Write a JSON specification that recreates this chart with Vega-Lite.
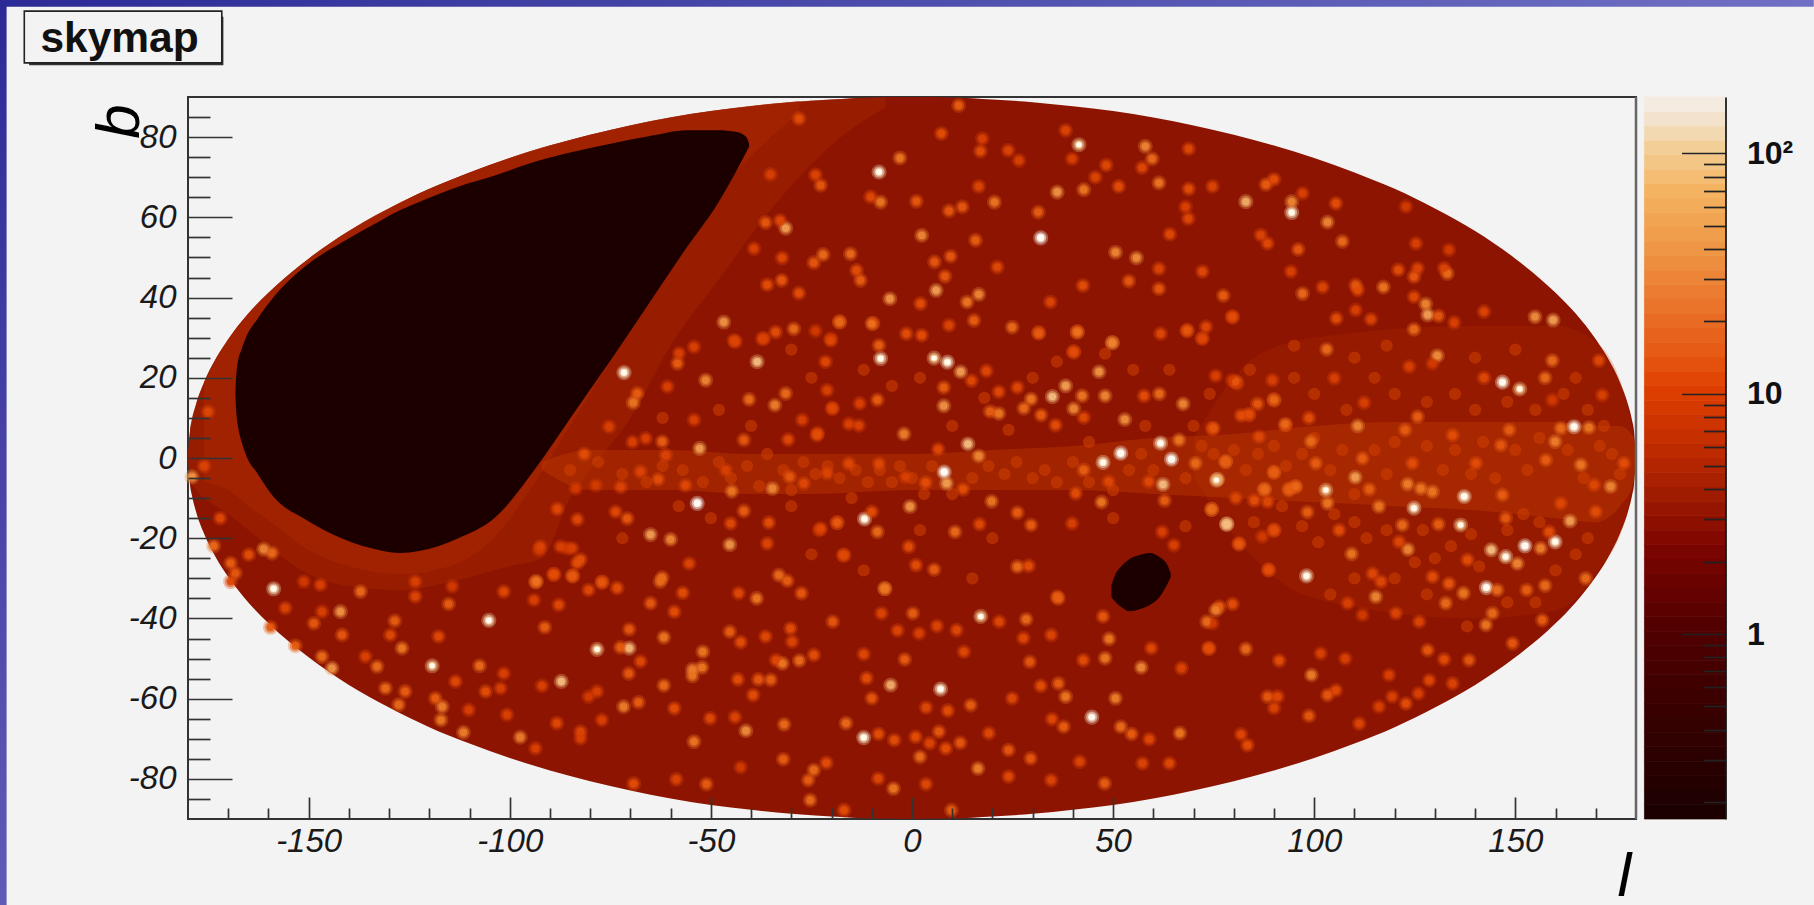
{
"$schema":"https://vega.github.io/schema/vega-lite/v6.json",
"width":1448,"height":722,
"autosize":{"type":"none"},
"padding":{"left":188,"top":97,"right":178,"bottom":86},
"background":"#f3f3f3",
"view":{"stroke":"#333","strokeWidth":2,"fill":null},
"resolve":{"scale":{"y":"independent","color":"independent"},"axis":{"x":"independent","y":"independent"}},
"datasets":{
"edge":[{"l":-180,"b":0,"b2":0},{"l":-179.5,"b":6.7,"b2":-6.7},{"l":-179,"b":9.5,"b2":-9.5},{"l":-178,"b":13.4,"b2":-13.4},{"l":-176,"b":18.9,"b2":-18.9},{"l":-173,"b":24.9,"b2":-24.9},{"l":-170,"b":29.6,"b2":-29.6},{"l":-165,"b":36,"b2":-36},{"l":-160,"b":41.2,"b2":-41.2},{"l":-150,"b":49.7,"b2":-49.7},{"l":-140,"b":56.6,"b2":-56.6},{"l":-130,"b":62.2,"b2":-62.2},{"l":-120,"b":67.1,"b2":-67.1},{"l":-110,"b":71.2,"b2":-71.2},{"l":-100,"b":74.8,"b2":-74.8},{"l":-90,"b":77.9,"b2":-77.9},{"l":-80,"b":80.6,"b2":-80.6},{"l":-70,"b":82.9,"b2":-82.9},{"l":-60,"b":84.9,"b2":-84.9},{"l":-50,"b":86.5,"b2":-86.5},{"l":-40,"b":87.7,"b2":-87.7},{"l":-30,"b":88.7,"b2":-88.7},{"l":-20,"b":89.4,"b2":-89.4},{"l":-10,"b":89.9,"b2":-89.9},{"l":0,"b":90,"b2":-90},{"l":10,"b":89.9,"b2":-89.9},{"l":20,"b":89.4,"b2":-89.4},{"l":30,"b":88.7,"b2":-88.7},{"l":40,"b":87.7,"b2":-87.7},{"l":50,"b":86.5,"b2":-86.5},{"l":60,"b":84.9,"b2":-84.9},{"l":70,"b":82.9,"b2":-82.9},{"l":80,"b":80.6,"b2":-80.6},{"l":90,"b":77.9,"b2":-77.9},{"l":100,"b":74.8,"b2":-74.8},{"l":110,"b":71.2,"b2":-71.2},{"l":120,"b":67.1,"b2":-67.1},{"l":130,"b":62.2,"b2":-62.2},{"l":140,"b":56.6,"b2":-56.6},{"l":150,"b":49.7,"b2":-49.7},{"l":160,"b":41.2,"b2":-41.2},{"l":165,"b":36,"b2":-36},{"l":170,"b":29.6,"b2":-29.6},{"l":173,"b":24.9,"b2":-24.9},{"l":176,"b":18.9,"b2":-18.9},{"l":178,"b":13.4,"b2":-13.4},{"l":179,"b":9.5,"b2":-9.5},{"l":179.5,"b":6.7,"b2":-6.7},{"l":180,"b":0,"b2":0}],
"rim":[{"l":-180,"b":0,"b2":0},{"l":-179.5,"b":6.7,"b2":-5},{"l":-178,"b":13.4,"b2":-8},{"l":-176,"b":18.9,"b2":-10},{"l":-173,"b":24.9,"b2":-12},{"l":-170,"b":29.6,"b2":-14},{"l":-165,"b":36,"b2":-18},{"l":-160,"b":41.2,"b2":-22},{"l":-150,"b":49.7,"b2":-29},{"l":-140,"b":56.6,"b2":-32},{"l":-127,"b":63.8,"b2":-33},{"l":-115,"b":69.2,"b2":-31},{"l":-100,"b":74.8,"b2":-27},{"l":-92,"b":77.4,"b2":-25},{"l":-85,"b":79.3,"b2":-10},{"l":-80,"b":80.6,"b2":-3},{"l":-70,"b":82.9,"b2":10},{"l":-60,"b":84.9,"b2":28},{"l":-48,"b":86.7,"b2":44.5},{"l":-35,"b":88.3,"b2":62},{"l":-20,"b":89.4,"b2":78},{"l":-6.5,"b":89.9,"b2":87.5}],
"rim2":[{"l":-176,"b":18.9,"b2":-6},{"l":-170,"b":29.6,"b2":-8},{"l":-165,"b":36,"b2":-12},{"l":-158,"b":43,"b2":-17},{"l":-150,"b":49.7,"b2":-23},{"l":-140,"b":56.6,"b2":-27},{"l":-127,"b":63.8,"b2":-29},{"l":-115,"b":69.2,"b2":-27},{"l":-104,"b":73.4,"b2":-20},{"l":-95,"b":76.5,"b2":-8},{"l":-85,"b":79.3,"b2":8},{"l":-75,"b":81.8,"b2":24},{"l":-65,"b":84,"b2":40},{"l":-55,"b":85.8,"b2":56},{"l":-45,"b":87.2,"b2":70},{"l":-35,"b":88.3,"b2":80},{"l":-28,"b":89,"b2":86}],
"plane":[{"l":-92,"b":-1,"b2":-3},{"l":-80,"b":2,"b2":-8},{"l":-60,"b":2,"b2":-8},{"l":-40,"b":1,"b2":-9},{"l":-25,"b":1,"b2":-9},{"l":0,"b":1,"b2":-8},{"l":20,"b":2,"b2":-8},{"l":40,"b":3,"b2":-8},{"l":60,"b":5,"b2":-9},{"l":80,"b":6,"b2":-10},{"l":100,"b":8,"b2":-11},{"l":120,"b":9,"b2":-12},{"l":140,"b":9,"b2":-13},{"l":160,"b":9,"b2":-15},{"l":170,"b":8,"b2":-16},{"l":176,"b":8,"b2":-12},{"l":179.5,"b":5,"b2":-6},{"l":180,"b":0,"b2":0}],
"glow":[{"l":70,"b":5,"b2":-5},{"l":85,"b":25,"b2":-25},{"l":100,"b":30,"b2":-35},{"l":140,"b":33,"b2":-40},{"l":160,"b":33,"b2":-38},{"l":170,"b":29,"b2":-29},{"l":178,"b":13,"b2":-13},{"l":180,"b":0,"b2":0}],
"veto":[{"l":-168.21,"b":16,"b2":16},{"l":-168.12,"b":18.5,"b2":13.5},{"l":-167.93,"b":21.4,"b2":10.6},{"l":-167.55,"b":24.3,"b2":7.7},{"l":-166.78,"b":26.8,"b2":4.4},{"l":-165.36,"b":30.6,"b2":0.2},{"l":-162.98,"b":34.3,"b2":-3.5},{"l":-158.7,"b":40.12,"b2":-9.75},{"l":-151.09,"b":47.6,"b2":-15.15},{"l":-141.57,"b":53.84,"b2":-20.14},{"l":-132.06,"b":59.24,"b2":-23.05},{"l":-127.3,"b":61.74,"b2":-23.7},{"l":-122.54,"b":63.82,"b2":-23.2},{"l":-113.03,"b":67.56,"b2":-20.14},{"l":-103.51,"b":70.47,"b2":-14.74},{"l":-93.99,"b":73.79,"b2":-3.1},{"l":-84.48,"b":76.28,"b2":10.62},{"l":-74.97,"b":78.36,"b2":24.33},{"l":-65.45,"b":80.19,"b2":38.46},{"l":-55.94,"b":81.69,"b2":52.59},{"l":-48.33,"b":81.69,"b2":63.4},{"l":-43.57,"b":81.27,"b2":71.71},{"l":-41.19,"b":80.02,"b2":76.28},{"l":-40.52,"b":78.36,"b2":77.53}],
"hole":[{"l":49.6,"b":-31.7,"b2":-34.7},{"l":50.6,"b":-28.9,"b2":-35.9},{"l":52.1,"b":-26.9,"b2":-37.2},{"l":54.1,"b":-25.2,"b2":-38.2},{"l":56.6,"b":-24.2,"b2":-37.7},{"l":59,"b":-23.7,"b2":-36.7},{"l":61.5,"b":-24.7,"b2":-34.7},{"l":63.5,"b":-26.7,"b2":-31.4},{"l":64.3,"b":-28.7,"b2":-29.7}],
"levels":[{"a":0.17,"c":0.1952},{"a":0.1952,"c":0.2242},{"a":0.2242,"c":0.2575},{"a":0.2575,"c":0.2957},{"a":0.2957,"c":0.3396},{"a":0.3396,"c":0.39},{"a":0.39,"c":0.4478},{"a":0.4478,"c":0.5143},{"a":0.5143,"c":0.5906},{"a":0.5906,"c":0.6782},{"a":0.6782,"c":0.7789},{"a":0.7789,"c":0.8945},{"a":0.8945,"c":1.027},{"a":1.027,"c":1.18},{"a":1.18,"c":1.355},{"a":1.355,"c":1.556},{"a":1.556,"c":1.787},{"a":1.787,"c":2.052},{"a":2.052,"c":2.356},{"a":2.356,"c":2.706},{"a":2.706,"c":3.108},{"a":3.108,"c":3.569},{"a":3.569,"c":4.098},{"a":4.098,"c":4.707},{"a":4.707,"c":5.405},{"a":5.405,"c":6.207},{"a":6.207,"c":7.128},{"a":7.128,"c":8.186},{"a":8.186,"c":9.401},{"a":9.401,"c":10.8},{"a":10.8,"c":12.4},{"a":12.4,"c":14.24},{"a":14.24,"c":16.35},{"a":16.35,"c":18.78},{"a":18.78,"c":21.57},{"a":21.57,"c":24.77},{"a":24.77,"c":28.44},{"a":28.44,"c":32.66},{"a":32.66,"c":37.51},{"a":37.51,"c":43.08},{"a":43.08,"c":49.47},{"a":49.47,"c":56.81},{"a":56.81,"c":65.24},{"a":65.24,"c":74.92},{"a":74.92,"c":86.04},{"a":86.04,"c":98.81},{"a":98.81,"c":113.5},{"a":113.5,"c":130.3},{"a":130.3,"c":149.6},{"a":149.6,"c":171.8}],
"faint":[{"l":-85,"b":-3},{"l":-78,"b":-1},{"l":-72,"b":-4},{"l":-66,"b":-6},{"l":-62,"b":-2},{"l":-57,"b":-3},{"l":-52,"b":-6},{"l":-48,"b":-1},{"l":-45,"b":-5},{"l":-41,"b":-2},{"l":-38,"b":-7},{"l":-36,"b":1},{"l":-32,"b":-3},{"l":-30,"b":-8},{"l":-27,"b":-1},{"l":-24,"b":-4},{"l":-21,"b":-2},{"l":-18,"b":-5},{"l":-14,"b":-3},{"l":-11,"b":-6},{"l":-8,"b":-3},{"l":-5,"b":-6},{"l":-3,"b":-2},{"l":0,"b":-5},{"l":3,"b":-9},{"l":5,"b":-2},{"l":10,"b":-9},{"l":15,"b":-5},{"l":19,"b":-2},{"l":23,"b":-4},{"l":26,"b":-1},{"l":30,"b":-5},{"l":33,"b":-3},{"l":36,"b":-6},{"l":40,"b":-1},{"l":44,"b":-6},{"l":50,"b":-8},{"l":54,"b":-3},{"l":57,"b":1},{"l":60,"b":-3},{"l":68,"b":-5},{"l":72,"b":3},{"l":75,"b":1},{"l":80,"b":2},{"l":83,"b":-3},{"l":86,"b":1},{"l":90,"b":3},{"l":93,"b":-2},{"l":97,"b":1},{"l":100,"b":5},{"l":104,"b":-3},{"l":107,"b":2},{"l":110,"b":-9},{"l":115,"b":2},{"l":118,"b":-4},{"l":120,"b":4},{"l":128,"b":3},{"l":132,"b":-3},{"l":135,"b":2},{"l":139,"b":-4},{"l":142,"b":4},{"l":145,"b":-5},{"l":150,"b":2},{"l":153,"b":-3},{"l":156,"b":5},{"l":163,"b":2},{"l":167,"b":-5},{"l":171,"b":3},{"l":174,"b":1},{"l":176,"b":-4},{"l":85,"b":-16},{"l":92,"b":-12},{"l":97,"b":-17},{"l":101,"b":-21},{"l":105,"b":-14},{"l":110,"b":-16},{"l":113,"b":-20},{"l":118,"b":-18},{"l":127,"b":-18},{"l":130,"b":-25},{"l":134,"b":-22},{"l":139,"b":-19},{"l":141,"b":-27},{"l":148,"b":-18},{"l":152,"b":-14},{"l":156,"b":-16},{"l":165,"b":-24},{"l":168,"b":-20},{"l":160,"b":-28},{"l":155,"b":-36},{"l":148,"b":-36},{"l":138,"b":-42},{"l":128,"b":-34},{"l":120,"b":-30},{"l":125,"b":-26},{"l":110,"b":-30},{"l":104,"b":-34},{"l":95,"b":20},{"l":100,"b":16},{"l":108,"b":12},{"l":115,"b":20},{"l":120,"b":16},{"l":128,"b":14},{"l":135,"b":16},{"l":140,"b":12},{"l":148,"b":14},{"l":155,"b":12},{"l":162,"b":16},{"l":168,"b":12},{"l":172,"b":8},{"l":140,"b":25},{"l":150,"b":27},{"l":165,"b":20},{"l":118,"b":28},{"l":110,"b":25},{"l":95,"b":28},{"l":2,"b":20},{"l":10,"b":8},{"l":18,"b":15},{"l":24,"b":7},{"l":30,"b":20},{"l":36,"b":24},{"l":44,"b":4},{"l":48,"b":26},{"l":55,"b":22},{"l":58,"b":8},{"l":64,"b":22},{"l":70,"b":8},{"l":74,"b":16},{"l":84,"b":22},{"l":-5,"b":18},{"l":-12,"b":22},{"l":-25,"b":20},{"l":-30,"b":27},{"l":-40,"b":8},{"l":-48,"b":12},{"l":-62,"b":10},{"l":-15,"b":-10},{"l":-30,"b":-12},{"l":-50,"b":-15},{"l":-58,"b":-12},{"l":-72,"b":-20},{"l":-25,"b":-24},{"l":2,"b":-18},{"l":20,"b":-20},{"l":15,"b":-30},{"l":-12,"b":-28},{"l":50,"b":-15},{"l":68,"b":-17}],
"spots":[
{"l":-7.8,"b":24.8,"v":120},{"l":5.5,"b":24.9,"v":100},{"l":8.8,"b":23.9,"v":130},{"l":12.1,"b":21.5,"v":70},{"l":-18,"b":34,"v":25},{"l":-9.7,"b":33.6,"v":18},{"l":-8.6,"b":14.5,"v":30},{"l":7.9,"b":13,"v":60},{"l":7.9,"b":17.6,"v":30},{"l":14.8,"b":19.3,"v":22},{"l":18.5,"b":21.7,"v":22},{"l":-2,"b":6,"v":45},{"l":13.9,"b":3.5,"v":90},{"l":16.6,"b":0.5,"v":50},{"l":8,"b":-3.5,"v":170},{"l":8.6,"b":-6.3,"v":70},{"l":12.7,"b":-7.8,"v":25},{"l":19.8,"b":-10.8,"v":40},{"l":-0.5,"b":-12.1,"v":60},{"l":-11.8,"b":-15.2,"v":130},{"l":-8.6,"b":-18.4,"v":35},{"l":10.7,"b":-18.4,"v":35},{"l":16.8,"b":-16.5,"v":22},{"l":26.2,"b":-13.6,"v":30},{"l":38.2,"b":18,"v":70},{"l":34.9,"b":15.3,"v":90},{"l":42.3,"b":15.5,"v":40},{"l":46.5,"b":21.5,"v":60},{"l":48,"b":15.5,"v":50},{"l":49.8,"b":28.8,"v":35},{"l":29.6,"b":14.7,"v":40},{"l":27.8,"b":12.4,"v":35},{"l":40.2,"b":12.3,"v":50},{"l":21.6,"b":11.1,"v":40},{"l":52.9,"b":9.6,"v":55},{"l":61.5,"b":16,"v":35},{"l":67.4,"b":13.5,"v":50},{"l":61.8,"b":3.7,"v":130},{"l":51.9,"b":1.2,"v":170},{"l":47.5,"b":-1.1,"v":130},{"l":64.5,"b":-0.3,"v":170},{"l":66.4,"b":4.5,"v":40},{"l":62.4,"b":-6.6,"v":90},{"l":75.7,"b":-5.5,"v":100},{"l":70.5,"b":-1.3,"v":35},{"l":78,"b":-0.9,"v":35},{"l":90,"b":-3.5,"v":30},{"l":47.1,"b":-11,"v":40},{"l":40.7,"b":-8.8,"v":25},{"l":78.2,"b":-16.5,"v":90},{"l":87.5,"b":-7.8,"v":30},{"l":74.5,"b":-12.8,"v":35},{"l":62.8,"b":-10.6,"v":30},{"l":29.6,"b":-16.7,"v":30},{"l":26.2,"b":-27.1,"v":35},{"l":29,"b":-26.9,"v":25},{"l":5.5,"b":-27.8,"v":30},{"l":1,"b":-26.7,"v":25},{"l":-6.7,"b":-32.6,"v":40},{"l":-17.1,"b":-24.2,"v":22},{"l":36.1,"b":-34.6,"v":30},{"l":42.7,"b":-3,"v":30},{"l":48.9,"b":-5.9,"v":22},{"l":58.9,"b":-5.9,"v":22},{"l":57.7,"b":15.5,"v":25},{"l":26.2,"b":17.6,"v":22},{"l":21.6,"b":16.5,"v":22},{"l":19.4,"b":11.6,"v":30},{"l":32.1,"b":10.7,"v":30},{"l":35.7,"b":8.2,"v":25},{"l":42.7,"b":10.1,"v":22},{"l":40.2,"b":26.5,"v":20},{"l":41.1,"b":31.5,"v":25},{"l":31.5,"b":31.3,"v":20},{"l":68.4,"b":31.7,"v":18},{"l":79.6,"b":35.2,"v":18},{"l":72.1,"b":29.8,"v":15},{"l":-19.8,"b":12.4,"v":18},{"l":-13,"b":13.6,"v":18},{"l":-23.5,"b":6.2,"v":22},{"l":-15.7,"b":8.5,"v":18},{"l":-13.2,"b":8.1,"v":18},{"l":-20.2,"b":29.8,"v":15},{"l":-24,"b":31.7,"v":15},{"l":6.5,"b":2.2,"v":22},{"l":3.4,"b":-6.1,"v":25},{"l":-21.1,"b":-3.8,"v":20},{"l":-15.7,"b":-1.4,"v":22},{"l":-8.2,"b":-1.4,"v":22},{"l":-26.9,"b":-6.3,"v":22},{"l":-1.6,"b":-4.7,"v":18},{"l":-23.1,"b":-18,"v":15},{"l":-18.6,"b":-16.1,"v":15},{"l":-10,"b":-13.4,"v":25},{"l":-0.8,"b":-22.1,"v":25},{"l":93.7,"b":-8,"v":30},{"l":95.3,"b":-7.2,"v":25},{"l":81.3,"b":-21.3,"v":22},{"l":90,"b":-18,"v":20},{"l":88.7,"b":-27.9,"v":22},{"l":87.1,"b":-19.6,"v":15},{"l":65.1,"b":-21.7,"v":18},{"l":62.2,"b":-18.4,"v":18},{"l":39.8,"b":-16.3,"v":18},{"l":92.9,"b":8.2,"v":18},{"l":79.6,"b":19.4,"v":15},{"l":80.9,"b":18.6,"v":15},{"l":90,"b":14.5,"v":18},{"l":83.7,"b":10.7,"v":15},{"l":74.6,"b":7.4,"v":18},
{"l":-8.2,"b":71.3,"v":130},{"l":-3,"b":74.8,"v":40},{"l":7.3,"b":80.9,"v":25},{"l":17,"b":76.5,"v":25},{"l":17.5,"b":79.6,"v":18},{"l":23.9,"b":76.7,"v":20},{"l":41.5,"b":78.1,"v":100},{"l":58,"b":77.7,"v":50},{"l":59.7,"b":74.6,"v":35},{"l":68.8,"b":77.1,"v":22},{"l":48.3,"b":73,"v":22},{"l":57.2,"b":72.4,"v":22},{"l":38.2,"b":81.7,"v":20},{"l":26.6,"b":74.2,"v":18},{"l":36.1,"b":66.3,"v":60},{"l":42.7,"b":66.9,"v":40},{"l":61.4,"b":68.6,"v":40},{"l":51.4,"b":67.7,"v":25},{"l":68.8,"b":67.1,"v":25},{"l":20.5,"b":63.8,"v":40},{"l":16.6,"b":67.7,"v":20},{"l":-7.8,"b":63.8,"v":40},{"l":-10.3,"b":65.1,"v":22},{"l":1.1,"b":64,"v":28},{"l":12.5,"b":62.6,"v":28},{"l":9.2,"b":61.6,"v":28},{"l":31.4,"b":61.3,"v":30},{"l":-22.7,"b":68,"v":28},{"l":-24,"b":70.6,"v":20},{"l":-35.2,"b":70.7,"v":18},{"l":-36.4,"b":58.7,"v":28},{"l":-31.4,"b":57.3,"v":70},{"l":-32.8,"b":59.2,"v":22},{"l":32,"b":54.9,"v":170},{"l":2.4,"b":55.5,"v":50},{"l":15.8,"b":54.3,"v":30},{"l":50.6,"b":51.3,"v":50},{"l":55.8,"b":49.9,"v":55},{"l":64.1,"b":55.8,"v":22},{"l":68.7,"b":59.7,"v":22},{"l":-15.3,"b":50.9,"v":35},{"l":-22.1,"b":50.7,"v":35},{"l":-24.4,"b":48.7,"v":28},{"l":-32.3,"b":49.9,"v":22},{"l":-39.3,"b":52.2,"v":18},{"l":-13.8,"b":46.8,"v":25},{"l":-12.8,"b":44.3,"v":30},{"l":-32.4,"b":44.3,"v":28},{"l":-36,"b":43.2,"v":25},{"l":-28.1,"b":41.1,"v":25},{"l":9.6,"b":50.3,"v":28},{"l":5.6,"b":48.9,"v":28},{"l":21.2,"b":47.6,"v":22},{"l":8.2,"b":45.3,"v":28},{"l":6,"b":41.8,"v":70},{"l":-5.5,"b":39.7,"v":60},{"l":16.6,"b":40.8,"v":50},{"l":13.7,"b":38.9,"v":40},{"l":2.1,"b":38.5,"v":25},{"l":53.9,"b":44.1,"v":28},{"l":61.4,"b":42.2,"v":28},{"l":42.5,"b":43,"v":25},{"l":34.4,"b":38.9,"v":20},{"l":-46.8,"b":33.9,"v":60},{"l":-18,"b":33.9,"v":35},{"l":-9.9,"b":33.5,"v":40},{"l":-29.4,"b":32.2,"v":35},{"l":15.4,"b":34.3,"v":30},{"l":24.9,"b":32.6,"v":35},{"l":31.5,"b":31.1,"v":30},{"l":41.1,"b":31.4,"v":40},{"l":49.8,"b":28.7,"v":50},{"l":68.4,"b":31.8,"v":28},{"l":61.8,"b":31,"v":22},{"l":-33.9,"b":31.4,"v":25},{"l":-37.2,"b":29.7,"v":20},{"l":-44.3,"b":29.3,"v":20},{"l":-8.2,"b":28.1,"v":30},{"l":-1.4,"b":31,"v":25},{"l":2.4,"b":30.6,"v":25},{"l":9.2,"b":33.1,"v":20},{"l":40.2,"b":26.4,"v":25},{"l":-20.2,"b":29.3,"v":22},{"l":-28.1,"b":84.6,"v":25},{"l":11.6,"b":87.9,"v":30},{"l":61.4,"b":47.2,"v":20},{"l":45.6,"b":70,"v":20},{"l":39.8,"b":74.6,"v":18},{"l":68,"b":62.6,"v":18},
{"l":94.4,"b":61.2,"v":130},{"l":83,"b":63.9,"v":80},{"l":94.4,"b":63.9,"v":50},{"l":103.3,"b":58.8,"v":50},{"l":88,"b":68.2,"v":30},{"l":90,"b":69.5,"v":25},{"l":74.7,"b":67.7,"v":20},{"l":97.1,"b":66,"v":18},{"l":105.4,"b":63.5,"v":25},{"l":107,"b":54,"v":35},{"l":96,"b":52,"v":28},{"l":86.7,"b":55.6,"v":20},{"l":88.4,"b":53.5,"v":22},{"l":122.8,"b":62.7,"v":15},{"l":125.3,"b":53.5,"v":18},{"l":133.5,"b":51.9,"v":15},{"l":97.1,"b":41,"v":35},{"l":110.3,"b":43.1,"v":28},{"l":117.2,"b":42.6,"v":40},{"l":110.8,"b":41.9,"v":25},{"l":120.9,"b":46.9,"v":25},{"l":124.8,"b":45.2,"v":28},{"l":133.1,"b":46,"v":35},{"l":125.7,"b":47.3,"v":20},{"l":132.3,"b":47.3,"v":20},{"l":127.7,"b":38.4,"v":50},{"l":128.2,"b":35.7,"v":70},{"l":124.8,"b":40.2,"v":22},{"l":130.9,"b":35.4,"v":28},{"l":154.9,"b":35.2,"v":55},{"l":159.4,"b":34.4,"v":70},{"l":142.2,"b":36.5,"v":20},{"l":134.8,"b":33.8,"v":18},{"l":124.8,"b":32.1,"v":35},{"l":77.4,"b":40.5,"v":30},{"l":72.2,"b":46.5,"v":22},{"l":94.2,"b":46.5,"v":18},{"l":102.1,"b":42.6,"v":20},{"l":79.7,"b":35.2,"v":25},{"l":105.5,"b":34.8,"v":25},{"l":110.3,"b":36.9,"v":18},{"l":114.1,"b":34.6,"v":20},{"l":73.1,"b":32.7,"v":22},{"l":72.2,"b":29.8,"v":22},{"l":103.1,"b":27.1,"v":35},{"l":130.6,"b":25.5,"v":55},{"l":159.2,"b":24.3,"v":35},{"l":170.8,"b":24.3,"v":22},{"l":157.4,"b":20,"v":35},{"l":146.8,"b":18.9,"v":150},{"l":151.1,"b":17.2,"v":100},{"l":142.2,"b":20,"v":22},{"l":80.5,"b":19,"v":28},{"l":75.5,"b":20.5,"v":18},{"l":89.6,"b":19.4,"v":18},{"l":105,"b":19.9,"v":18},{"l":90,"b":14.5,"v":35},{"l":85.9,"b":13.5,"v":28},{"l":83.8,"b":10.9,"v":25},{"l":81.8,"b":10.6,"v":25},{"l":98.7,"b":10,"v":25},{"l":92.8,"b":8.4,"v":35},{"l":110.8,"b":8,"v":50},{"l":112.4,"b":13.8,"v":18},{"l":74.9,"b":7.4,"v":28},{"l":164.6,"b":7.8,"v":150},{"l":168.3,"b":7.6,"v":40},{"l":161.3,"b":7.4,"v":35},{"l":148.5,"b":7,"v":30},{"l":159.9,"b":4.1,"v":45},{"l":99.2,"b":4.1,"v":35},{"l":122.6,"b":7,"v":30},{"l":125.7,"b":10.3,"v":30},{"l":134.4,"b":5.7,"v":25},{"l":86.3,"b":5.3,"v":22},{"l":146.4,"b":3.2,"v":28},{"l":171.6,"b":15.7,"v":18},{"l":159.2,"b":14.5,"v":15},{"l":129.4,"b":23.6,"v":15},{"l":123.6,"b":22.8,"v":18},
{"l":76,"b":-5.3,"v":80},{"l":78,"b":-0.9,"v":30},{"l":90,"b":-3.6,"v":30},{"l":110.2,"b":-4.8,"v":70},{"l":112,"b":-0.1,"v":30},{"l":102.9,"b":-8,"v":100},{"l":95.4,"b":-7.1,"v":35},{"l":93.8,"b":-7.7,"v":30},{"l":87.7,"b":-7.8,"v":35},{"l":85.1,"b":-10.6,"v":25},{"l":80.5,"b":-10,"v":22},{"l":74.5,"b":-12.8,"v":35},{"l":78.3,"b":-16.5,"v":90},{"l":88.4,"b":-10.9,"v":22},{"l":103.3,"b":-11.3,"v":40},{"l":98.3,"b":-13.5,"v":30},{"l":113.7,"b":-7.8,"v":30},{"l":123.2,"b":-6.5,"v":45},{"l":126.5,"b":-7.6,"v":40},{"l":129.4,"b":-8.4,"v":40},{"l":137.3,"b":-9.6,"v":140},{"l":124.8,"b":-12.5,"v":120},{"l":116.1,"b":-12.1,"v":40},{"l":121.9,"b":-16.7,"v":35},{"l":136.4,"b":-16.7,"v":100},{"l":130.9,"b":-16.5,"v":30},{"l":173.7,"b":-7.1,"v":50},{"l":166.3,"b":-1.7,"v":40},{"l":163.6,"b":-15.7,"v":70},{"l":152.4,"b":-21.9,"v":170},{"l":147.6,"b":-24.6,"v":120},{"l":144,"b":-22.9,"v":90},{"l":159.9,"b":-20.9,"v":130},{"l":156.3,"b":-22.5,"v":45},{"l":150.5,"b":-26.3,"v":50},{"l":142.8,"b":-32.3,"v":150},{"l":145.5,"b":-32.9,"v":35},{"l":137.1,"b":-33.7,"v":40},{"l":132.7,"b":-36.2,"v":35},{"l":133.5,"b":-31.3,"v":28},{"l":115.3,"b":-34.6,"v":50},{"l":116.6,"b":-30.8,"v":22},{"l":98.1,"b":-29.4,"v":130},{"l":109.3,"b":-23.9,"v":40},{"l":123.3,"b":-22.8,"v":50},{"l":121.1,"b":-20.9,"v":22},{"l":106.2,"b":-18,"v":25},{"l":88.6,"b":-27.9,"v":25},{"l":90,"b":-18,"v":25},{"l":81.3,"b":-21.5,"v":28},{"l":157.4,"b":-31.8,"v":35},{"l":152.8,"b":-32.9,"v":30},{"l":167.5,"b":-30,"v":35},{"l":170,"b":-13.4,"v":25},{"l":144.3,"b":-38.7,"v":35},{"l":142.7,"b":-41.6,"v":40},{"l":156.7,"b":-40.4,"v":30},{"l":149.3,"b":-46.2,"v":28},{"l":138.5,"b":-50.4,"v":28},{"l":132.3,"b":-50.2,"v":25},{"l":128.2,"b":-47.9,"v":28},{"l":83,"b":-47.6,"v":35},{"l":73.9,"b":-47.5,"v":25},{"l":99.3,"b":-54.1,"v":45},{"l":91.3,"b":-50.5,"v":25},{"l":107.7,"b":-50,"v":18},{"l":101.6,"b":-48.7,"v":18},{"l":76.4,"b":-37.1,"v":30},{"l":79.7,"b":-36.4,"v":25},{"l":74.7,"b":-41.2,"v":15},{"l":88.4,"b":-59.5,"v":28},{"l":90.9,"b":-59.5,"v":22},{"l":103.3,"b":-59.1,"v":28},{"l":105.4,"b":-57.9,"v":22},{"l":90,"b":-62.3,"v":20},{"l":98.7,"b":-64.3,"v":28},{"l":81.8,"b":-68.9,"v":22},{"l":83.4,"b":-71.6,"v":25},{"l":111.2,"b":-66.2,"v":20},{"l":122.8,"b":-61.2,"v":25},{"l":119.4,"b":-59.5,"v":18},{"l":116.1,"b":-62,"v":18},{"l":128.6,"b":-55.4,"v":22},{"l":134.4,"b":-56.2,"v":20},{"l":125.9,"b":-58.7,"v":18},{"l":118.6,"b":-54.1,"v":18},{"l":147.6,"b":-15,"v":28},{"l":158.4,"b":-18.4,"v":25},{"l":138.1,"b":-25.4,"v":25},{"l":129.4,"b":-29.6,"v":25},{"l":120.3,"b":-38.7,"v":20},{"l":126.1,"b":-40.8,"v":20},{"l":112,"b":-39.1,"v":15},{"l":108.3,"b":-36.2,"v":18},{"l":114.5,"b":-28.8,"v":22},{"l":146.8,"b":-9.2,"v":30},{"l":161.3,"b":-11.3,"v":22},{"l":169.6,"b":-6.7,"v":22},{"l":140.2,"b":-1.3,"v":25},{"l":157.6,"b":-0.5,"v":30},{"l":177,"b":-1.3,"v":25},{"l":100.4,"b":-1.3,"v":30},{"l":124.4,"b":-1.3,"v":25},
{"l":-71.6,"b":21.3,"v":130},{"l":-38.5,"b":24,"v":90},{"l":-51.3,"b":19.4,"v":50},{"l":-58.3,"b":23.6,"v":30},{"l":-68.3,"b":16.1,"v":30},{"l":-69.3,"b":13.8,"v":40},{"l":-31.4,"b":16.1,"v":35},{"l":-40.5,"b":14.6,"v":35},{"l":-34.1,"b":13.2,"v":45},{"l":-19.8,"b":12.4,"v":22},{"l":-52.8,"b":2.4,"v":70},{"l":-62.1,"b":4.1,"v":30},{"l":-41.8,"b":4.5,"v":28},{"l":-23.6,"b":5.7,"v":25},{"l":-30.8,"b":4.6,"v":22},{"l":-34.7,"b":-7.6,"v":50},{"l":-44.8,"b":-8.3,"v":40},{"l":-30.4,"b":-4.7,"v":28},{"l":-53.4,"b":-11.3,"v":170},{"l":-41.8,"b":-13.2,"v":30},{"l":-63.1,"b":-5.3,"v":25},{"l":-67.5,"b":-3.4,"v":20},{"l":-56.3,"b":-6.8,"v":22},{"l":-72.4,"b":-7.2,"v":20},{"l":-81.5,"b":1,"v":25},{"l":-70.8,"b":-15.1,"v":28},{"l":-73.7,"b":-13.4,"v":22},{"l":-83.2,"b":-15.3,"v":22},{"l":-88.2,"b":-12.7,"v":22},{"l":-65,"b":-19.1,"v":70},{"l":-60,"b":-20.3,"v":50},{"l":-45.3,"b":-21.6,"v":60},{"l":-35.6,"b":-16.1,"v":25},{"l":-18.6,"b":-16.1,"v":30},{"l":-22.7,"b":-17.6,"v":22},{"l":-36,"b":-21.3,"v":20},{"l":-82.4,"b":-25.3,"v":25},{"l":-84.3,"b":-29.4,"v":28},{"l":-89,"b":-29,"v":22},{"l":-93.6,"b":-30.9,"v":30},{"l":-62.1,"b":-29.8,"v":35},{"l":-33.1,"b":-29.2,"v":35},{"l":-31,"b":-30.6,"v":30},{"l":-55.4,"b":-26.3,"v":20},{"l":-77,"b":-30.9,"v":22},{"l":-85.7,"b":-22.5,"v":15},{"l":-92.7,"b":-22.9,"v":15},{"l":-16.9,"b":-24.2,"v":22},{"l":-45.1,"b":-16.3,"v":22},{"l":-21.5,"b":24,"v":22},{"l":-43.9,"b":29,"v":20},{"l":-54.2,"b":27.7,"v":18},{"l":-36.8,"b":29.8,"v":18},{"l":-57.9,"b":26.1,"v":18},{"l":-21.1,"b":16.9,"v":18},{"l":-27.3,"b":9.5,"v":18},{"l":-54.2,"b":9.5,"v":18},{"l":-60.8,"b":17.8,"v":18},{"l":-66.2,"b":4.9,"v":18},{"l":-75.3,"b":7.8,"v":18},{"l":-69.5,"b":4,"v":18},{"l":-46.3,"b":-3,"v":18},{"l":-61.2,"b":0.7,"v":20},{"l":-83.6,"b":-7.6,"v":15},{"l":-78.6,"b":-6.8,"v":15},
{"l":-158.7,"b":-32.6,"v":130},{"l":-161.2,"b":-22.7,"v":50},{"l":-159.1,"b":-23.7,"v":35},{"l":-164.9,"b":-24.1,"v":25},{"l":-169.4,"b":-26.2,"v":30},{"l":-168.2,"b":-28.7,"v":28},{"l":-173.6,"b":-21.9,"v":35},{"l":-169.4,"b":-30.8,"v":22},{"l":-137.1,"b":-33.3,"v":35},{"l":-142.1,"b":-38.3,"v":60},{"l":-128.6,"b":-40.6,"v":30},{"l":-146.7,"b":-38.3,"v":18},{"l":-148.7,"b":-41.2,"v":28},{"l":-141.7,"b":-44.1,"v":28},{"l":-155.8,"b":-37.4,"v":20},{"l":-119.3,"b":-51.8,"v":100},{"l":-126.8,"b":-47.4,"v":40},{"l":-105.2,"b":-40.5,"v":120},{"l":-115.2,"b":-36.4,"v":30},{"l":-101.5,"b":-33.3,"v":22},{"l":-93.4,"b":-30.8,"v":40},{"l":-84.5,"b":-29.4,"v":28},{"l":-89.1,"b":-29,"v":25},{"l":-83.3,"b":-26.2,"v":25},{"l":-78.3,"b":-47.7,"v":100},{"l":-70.3,"b":-47.4,"v":85},{"l":-72.5,"b":-47.2,"v":30},{"l":-70.3,"b":-42.7,"v":28},{"l":-61.7,"b":-44.7,"v":40},{"l":-91.3,"b":-42.2,"v":30},{"l":-87.2,"b":-55.7,"v":90},{"l":-107.5,"b":-51.8,"v":35},{"l":-70.4,"b":-53.7,"v":28},{"l":-61.7,"b":-56.7,"v":35},{"l":-71.7,"b":-62,"v":45},{"l":-68,"b":-60.9,"v":30},{"l":-144.2,"b":-52.4,"v":60},{"l":-146.7,"b":-49.5,"v":35},{"l":-133,"b":-52,"v":35},{"l":-130.9,"b":-57.4,"v":35},{"l":-126,"b":-58.2,"v":30},{"l":-135.9,"b":-49.5,"v":18},{"l":-117.7,"b":-44.5,"v":22},{"l":-129.7,"b":-44.1,"v":22},{"l":-153.3,"b":-46.8,"v":30},{"l":-159.5,"b":-42.2,"v":28},{"l":-127.6,"b":-61.5,"v":35},{"l":-116.8,"b":-62,"v":45},{"l":-118.5,"b":-59.9,"v":30},{"l":-117.1,"b":-65.3,"v":40},{"l":-111.5,"b":-68.4,"v":45},{"l":-97.4,"b":-69.6,"v":45},{"l":-110.2,"b":-62.8,"v":18},{"l":-100.7,"b":-64,"v":18},{"l":-113.5,"b":-55.7,"v":22},{"l":-106,"b":-58.2,"v":25},{"l":-101.5,"b":-53.7,"v":18},{"l":-102.3,"b":-57.4,"v":18},{"l":-92,"b":-56.8,"v":18},{"l":-88.3,"b":-66.1,"v":22},{"l":-82.4,"b":-68.2,"v":20},{"l":-82.4,"b":-69.9,"v":18},{"l":-69.2,"b":-81.2,"v":25},{"l":-93.6,"b":-72.4,"v":18},{"l":-77.1,"b":-65.3,"v":18},{"l":-62.6,"b":-30.8,"v":35},{"l":-77.1,"b":-31,"v":28},{"l":-80.4,"b":-32.9,"v":22},{"l":-73.3,"b":-32.4,"v":25},{"l":-65,"b":-36.2,"v":28},{"l":-87.8,"b":-36.6,"v":22},{"l":-94,"b":-35.4,"v":18},{"l":-67.5,"b":-50.7,"v":22},{"l":-78.3,"b":-58.2,"v":18},{"l":-80.4,"b":-59.5,"v":15},{"l":-92.4,"b":-22.1,"v":20},{"l":-87.4,"b":-22.1,"v":18},{"l":-84.5,"b":-22.5,"v":18},{"l":-123.5,"b":-30.8,"v":18},{"l":-123.5,"b":-34.5,"v":20},{"l":-114.3,"b":-32,"v":15},{"l":-151.2,"b":-30.8,"v":15},{"l":-147.1,"b":-31.6,"v":18},
{"l":17.1,"b":-39.5,"v":100},{"l":28.4,"b":-40.2,"v":35},{"l":36.4,"b":-35,"v":30},{"l":49,"b":-45.1,"v":40},{"l":48,"b":-49.9,"v":40},{"l":29.3,"b":-50.8,"v":28},{"l":27.7,"b":-44.9,"v":22},{"l":57,"b":-52.2,"v":50},{"l":38.2,"b":-59.5,"v":40},{"l":50.6,"b":-59.9,"v":45},{"l":44.7,"b":-64.6,"v":150},{"l":37.7,"b":-67,"v":30},{"l":51.9,"b":-67,"v":35},{"l":54.6,"b":-68.8,"v":30},{"l":66.6,"b":-68.6,"v":40},{"l":59,"b":-70.1,"v":22},{"l":16.4,"b":-77.4,"v":45},{"l":24,"b":-72.8,"v":28},{"l":29.5,"b":-74.9,"v":28},{"l":41.7,"b":-75.7,"v":20},{"l":57.3,"b":-76.1,"v":20},{"l":64,"b":-76.1,"v":22},{"l":47.9,"b":-81.1,"v":30},{"l":7.1,"b":-57.6,"v":130},{"l":-5.3,"b":-56.6,"v":80},{"l":-12,"b":-69.7,"v":130},{"l":-16.4,"b":-66.1,"v":35},{"l":-8.3,"b":-68.8,"v":25},{"l":2,"b":-74.5,"v":35},{"l":8.4,"b":-72.4,"v":25},{"l":12,"b":-71,"v":28},{"l":6.7,"b":-68.2,"v":28},{"l":19.1,"b":-68.6,"v":22},{"l":14.6,"b":-61.6,"v":30},{"l":8.9,"b":-63,"v":25},{"l":3.5,"b":-62.2,"v":22},{"l":-38.6,"b":-35,"v":40},{"l":-27.5,"b":-33.7,"v":28},{"l":-6.8,"b":-32.5,"v":40},{"l":-57,"b":-33.6,"v":25},{"l":-45.3,"b":-43.3,"v":30},{"l":-42.6,"b":-45.9,"v":25},{"l":-52,"b":-48.3,"v":40},{"l":-54.6,"b":-52.7,"v":45},{"l":-52.2,"b":-52.2,"v":40},{"l":-54.6,"b":-54.3,"v":40},{"l":-32.2,"b":-51.2,"v":40},{"l":-28,"b":-50.5,"v":35},{"l":-35.1,"b":-55.3,"v":30},{"l":-38.2,"b":-55.2,"v":28},{"l":-43.3,"b":-55.2,"v":25},{"l":-39.5,"b":-59.1,"v":25},{"l":-30.2,"b":-42.5,"v":25},{"l":-19.7,"b":-40.8,"v":28},{"l":-29.8,"b":-45.8,"v":20},{"l":-1.8,"b":-50.2,"v":30},{"l":-12,"b":-48.9,"v":22},{"l":-11.3,"b":-54.9,"v":25},{"l":-10,"b":-59.9,"v":28},{"l":-31.8,"b":-66.4,"v":35},{"l":-41.3,"b":-68,"v":55},{"l":-54.2,"b":-70.7,"v":40},{"l":-42.6,"b":-77.1,"v":15},{"l":-32,"b":-75.1,"v":30},{"l":-21.3,"b":-76,"v":25},{"l":-24.4,"b":-77.8,"v":35},{"l":-25.8,"b":-80.3,"v":30},{"l":-25.3,"b":-85.3,"v":35},{"l":-51.1,"b":-81.3,"v":30},{"l":-58.6,"b":-80.1,"v":20},{"l":-4.6,"b":-82.4,"v":40},{"l":-8.4,"b":-79.9,"v":22},{"l":3.5,"b":-81.3,"v":22},{"l":-59.1,"b":-62.4,"v":25},{"l":-50.2,"b":-64.9,"v":22},{"l":-44,"b":-64.6,"v":20},{"l":0.2,"b":-38.7,"v":30},{"l":-7.6,"b":-38.7,"v":20},{"l":-3.6,"b":-43,"v":20},{"l":6.2,"b":-41.9,"v":20},{"l":11.1,"b":-42.9,"v":22},{"l":1.8,"b":-43.7,"v":18},{"l":12.9,"b":-48.3,"v":22},{"l":21.7,"b":-40.8,"v":22},{"l":47.5,"b":-39.5,"v":28},{"l":42.6,"b":-50.4,"v":25},{"l":36.4,"b":-56.2,"v":30},{"l":32,"b":-56.8,"v":25},{"l":24.9,"b":-59.9,"v":22},{"l":34.8,"b":-65.1,"v":22},{"l":59.5,"b":-47.4,"v":22},{"l":67,"b":-52.4,"v":20},{"l":73.7,"b":-47.4,"v":25},{"l":75.5,"b":-37.9,"v":45},{"l":73.3,"b":-40.8,"v":35},{"l":34.6,"b":-44.1,"v":20},{"l":4.4,"b":-71.1,"v":20},{"l":0.9,"b":-69.5,"v":25},{"l":-4.4,"b":-70.3,"v":25},{"l":-43.1,"b":-33.7,"v":22},{"l":-59.1,"b":-38.3,"v":25},{"l":-36.4,"b":-44.5,"v":22},{"l":-33.8,"b":-50.4,"v":22},{"l":-24.4,"b":-49.1,"v":25},{"l":34.6,"b":-80.3,"v":20},{"l":24,"b":-79.4,"v":22},{"l":9.8,"b":-87.8,"v":30},{"l":-16.9,"b":-87.8,"v":25},
{"l":-179,"b":-4.7,"v":60},{"l":-175,"b":11.5,"v":22},{"l":-176,"b":-2,"v":20},{"l":-172,"b":-15,"v":22}
]
},
"layer":[
{"data":{"values":[{"l":-227,"l2":-225.1,"b":114.3,"b2":-111.5}]},"mark":{"type":"rect","fill":{"gradient":"linear","x1":0,"y1":0,"x2":0,"y2":1,"stops":[{"offset":0,"color":"#2b2a96"},{"offset":1,"color":"#615ab6"}]}},
 "encoding":{"x":{"field":"l","type":"quantitative","scale":{"domain":[-180,180],"nice":false,"zero":false},"axis":null},"x2":{"field":"l2"},"y":{"field":"b","type":"quantitative","scale":{"domain":[-90,90],"nice":false,"zero":false},"axis":null},"y2":{"field":"b2"}}},
{"data":{"values":[{"l":-227,"l2":224.2,"b":114.3,"b2":112.5}]},"mark":{"type":"rect","fill":{"gradient":"linear","x1":0,"y1":0,"x2":1,"y2":0,"stops":[{"offset":0,"color":"#2b2a96"},{"offset":1,"color":"#6f70c4"}]}},
 "encoding":{"x":{"field":"l","type":"quantitative","scale":{"domain":[-180,180],"nice":false,"zero":false},"axis":null},"x2":{"field":"l2"},"y":{"field":"b","type":"quantitative","scale":{"domain":[-90,90],"nice":false,"zero":false},"axis":null},"y2":{"field":"b2"}}},
{"data":{"values":[{"l":-219.5,"l2":-171.2,"b":110,"b2":97.9}]},"mark":{"type":"rect","fill":"#333"},
 "encoding":{"x":{"field":"l","type":"quantitative","scale":{"domain":[-180,180],"nice":false,"zero":false},"axis":null},"x2":{"field":"l2"},"y":{"field":"b","type":"quantitative","scale":{"domain":[-90,90],"nice":false,"zero":false},"axis":null},"y2":{"field":"b2"}}},
{"data":{"values":[{"l":-220.7,"l2":-171.6,"b":111.4,"b2":98.5}]},"mark":{"type":"rect","fill":"#f3f3f3","stroke":"#222","strokeWidth":1.6},
 "encoding":{"x":{"field":"l","type":"quantitative","scale":{"domain":[-180,180],"nice":false,"zero":false},"axis":null},"x2":{"field":"l2"},"y":{"field":"b","type":"quantitative","scale":{"domain":[-90,90],"nice":false,"zero":false},"axis":null},"y2":{"field":"b2"}}},
{"data":{"values":[{"l":-216.7,"b":101.2,"name":"skymap"}]},"mark":{"type":"text","align":"left","baseline":"alphabetic","font":"Liberation Sans","fontSize":42.5,"fontWeight":"bold","color":"#111"},
 "encoding":{"x":{"field":"l","type":"quantitative","scale":{"domain":[-180,180],"nice":false,"zero":false},"axis":null},"y":{"field":"b","type":"quantitative","scale":{"domain":[-90,90],"nice":false,"zero":false},"axis":null},"text":{"field":"name"}}},
{"data":{"name":"edge"},"mark":{"type":"area","orient":"vertical","fill":"#8c1400","interpolate":"monotone"},
 "encoding":{"x":{"field":"l","type":"quantitative","scale":{"domain":[-180,180],"nice":false,"zero":false},
   "axis":{"values":[-150,-100,-50,0,50,100,150],"labelExpr":"''+datum.value","orient":"bottom","grid":false,"domain":false,"tickSize":-22,"tickColor":"#333","tickWidth":1.7,"labelFont":"Liberation Sans","labelFontStyle":"italic","labelFontSize":33,"labelColor":"#1a1a1a","labelPadding":28,"labelFlush":false,"zindex":1,"title":"l","titleFont":"Liberation Sans","titleFontStyle":"italic","titleFontWeight":"normal","titleFontSize":62,"titleColor":"#000","titleX":1436,"titleY":76,"titleAlign":"center","titleBaseline":"alphabetic"}},
  "y":{"field":"b","type":"quantitative","scale":{"domain":[-90,90],"nice":false,"zero":false},
   "axis":{"values":[-80,-60,-40,-20,0,20,40,60,80],"labelExpr":"''+datum.value","orient":"left","grid":false,"domain":false,"tickSize":-44,"tickColor":"#333","tickWidth":1.7,"labelFont":"Liberation Sans","labelFontStyle":"italic","labelFontSize":33,"labelColor":"#1a1a1a","labelPadding":56,"labelFlush":false,"zindex":1,"title":"b","titleFont":"Liberation Sans","titleFontStyle":"italic","titleFontWeight":"normal","titleFontSize":62,"titleColor":"#000","titleX":-50,"titleY":24,"titleAngle":-90,"titleAlign":"center","titleBaseline":"alphabetic"}},
  "y2":{"field":"b2"}}},
{"data":{"name":"rim"},"mark":{"type":"area","orient":"vertical","fill":"#a02200","opacity":0.55,"interpolate":"monotone"},
 "encoding":{"x":{"field":"l","type":"quantitative","scale":{"domain":[-180,180],"nice":false,"zero":false},
   "axis":{"values":[-170,-160,-140,-130,-120,-110,-90,-80,-70,-60,-40,-30,-20,-10,10,20,30,40,60,70,80,90,110,120,130,140,160,170],"labels":false,"orient":"bottom","grid":false,"domain":false,"tickSize":-11,"tickColor":"#333","tickWidth":1.7,"zindex":1,"title":null}},
  "y":{"field":"b","type":"quantitative","scale":{"domain":[-90,90],"nice":false,"zero":false},
   "axis":{"values":[-85,-75,-70,-65,-55,-50,-45,-35,-30,-25,-15,-10,-5,5,10,15,25,30,35,45,50,55,65,70,75,85],"labels":false,"orient":"left","grid":false,"domain":false,"tickSize":-22,"tickColor":"#333","tickWidth":1.7,"zindex":1,"title":null}},
  "y2":{"field":"b2"}}},
{"data":{"name":"rim2"},"mark":{"type":"area","orient":"vertical","fill":"#a82600","opacity":0.6,"interpolate":"monotone"},
 "encoding":{"x":{"field":"l","type":"quantitative","scale":{"domain":[-180,180],"nice":false,"zero":false},"axis":null},"y":{"field":"b","type":"quantitative","scale":{"domain":[-90,90],"nice":false,"zero":false},"axis":null},"y2":{"field":"b2"}}},
{"data":{"name":"glow"},"mark":{"type":"area","orient":"vertical","fill":"#b83400","opacity":0.2,"interpolate":"monotone"},
 "encoding":{"x":{"field":"l","type":"quantitative","scale":{"domain":[-180,180],"nice":false,"zero":false},"axis":null},"y":{"field":"b","type":"quantitative","scale":{"domain":[-90,90],"nice":false,"zero":false},"axis":null},"y2":{"field":"b2"}}},
{"data":{"name":"plane"},"mark":{"type":"area","orient":"vertical","fill":"#c43c00","opacity":0.38,"interpolate":"monotone"},
 "encoding":{"x":{"field":"l","type":"quantitative","scale":{"domain":[-180,180],"nice":false,"zero":false},"axis":null},"y":{"field":"b","type":"quantitative","scale":{"domain":[-90,90],"nice":false,"zero":false},"axis":null},"y2":{"field":"b2"}}},
{"data":{"name":"faint"},"mark":{"type":"circle","size":150,"fill":"#d04000","opacity":0.55},
 "encoding":{"x":{"field":"l","type":"quantitative","scale":{"domain":[-180,180],"nice":false,"zero":false},"axis":null},"y":{"field":"b","type":"quantitative","scale":{"domain":[-90,90],"nice":false,"zero":false},"axis":null}}},
{"data":{"name":"spots"},"mark":{"type":"circle","size":230,"opacity":0.3},
 "encoding":{"x":{"field":"l","type":"quantitative","scale":{"domain":[-180,180],"nice":false,"zero":false},"axis":null},"y":{"field":"b","type":"quantitative","scale":{"domain":[-90,90],"nice":false,"zero":false},"axis":null},
  "color":{"field":"v","type":"quantitative","legend":null,"scale":{"type":"log","interpolate":"rgb","domain":[15,25,40,70,100,130,170],"range":["#d23a00","#e24c08","#ea7420","#f09c50","#f6c890","#fbe8c8","#fffef5"]}}}},
{"data":{"name":"spots"},"mark":{"type":"circle","size":125,"opacity":0.5},
 "encoding":{"x":{"field":"l","type":"quantitative","scale":{"domain":[-180,180],"nice":false,"zero":false},"axis":null},"y":{"field":"b","type":"quantitative","scale":{"domain":[-90,90],"nice":false,"zero":false},"axis":null},
  "color":{"field":"v","type":"quantitative","legend":null,"scale":{"type":"log","interpolate":"rgb","domain":[15,25,40,70,100,130,170],"range":["#d23a00","#e24c08","#ea7420","#f09c50","#f6c890","#fbe8c8","#fffef5"]}}}},
{"data":{"name":"spots"},"mark":{"type":"circle","size":55,"opacity":0.9},
 "encoding":{"x":{"field":"l","type":"quantitative","scale":{"domain":[-180,180],"nice":false,"zero":false},"axis":null},"y":{"field":"b","type":"quantitative","scale":{"domain":[-90,90],"nice":false,"zero":false},"axis":null},
  "color":{"field":"v","type":"quantitative","legend":null,"scale":{"type":"log","interpolate":"rgb","domain":[15,25,40,70,100,130,170],"range":["#d23a00","#e24c08","#ea7420","#f09c50","#f6c890","#fbe8c8","#fffef5"]}}}},
{"data":{"name":"veto"},"mark":{"type":"area","orient":"vertical","fill":"#1c0000","interpolate":"monotone"},
 "encoding":{"x":{"field":"l","type":"quantitative","scale":{"domain":[-180,180],"nice":false,"zero":false},"axis":null},"y":{"field":"b","type":"quantitative","scale":{"domain":[-90,90],"nice":false,"zero":false},"axis":null},"y2":{"field":"b2"}}},
{"data":{"name":"hole"},"mark":{"type":"area","orient":"vertical","fill":"#1c0000","interpolate":"monotone"},
 "encoding":{"x":{"field":"l","type":"quantitative","scale":{"domain":[-180,180],"nice":false,"zero":false},"axis":null},"y":{"field":"b","type":"quantitative","scale":{"domain":[-90,90],"nice":false,"zero":false},"axis":null},"y2":{"field":"b2"}}},
{"data":{"values":[{"edge":180}]},"mark":{"type":"rule","stroke":"#666","strokeWidth":2.5},
 "encoding":{"x":{"field":"edge","type":"quantitative","scale":{"domain":[-180,180],"nice":false,"zero":false},"axis":null}}},
{"data":{"name":"levels"},"mark":{"type":"rect","strokeWidth":0.7},
 "encoding":{"x":{"datum":182.1,"type":"quantitative","scale":{"domain":[-180,180],"nice":false,"zero":false},"axis":null},"x2":{"datum":202.3},
  "y":{"field":"a","type":"quantitative","scale":{"type":"log","domain":[0.17,171.8],"nice":false},
   "axis":{"values":[1,10,100],"labelExpr":"datum.value==100?'10²':''+datum.value","orient":"right","offset":89.5,"grid":false,"domain":true,"domainColor":"#111","domainWidth":1.7,"tickSize":-44,"tickColor":"#222","tickWidth":1.7,"labelFont":"Liberation Sans","labelFontWeight":"bold","labelFontSize":32,"labelColor":"#111","labelPadding":65,"labelFlush":false,"zindex":1,"title":null}},
  "y2":{"field":"c"},
  "color":{"field":"a","type":"quantitative","legend":null,"scale":{"type":"log","interpolate":"rgb","domain":[0.17,0.5,1,2.2,3.6,6,10,14,24,40,65,100,140,171],"range":["#1c0000","#3c0000","#520000","#7d0500","#a01c00","#c42e00","#e04000","#e65a14","#eb7a30","#ef9a48","#f4b360","#f3d09a","#f3e8da","#f5f5f0"]}},
  "stroke":{"field":"a","type":"quantitative","legend":null,"scale":{"type":"log","interpolate":"rgb","domain":[0.17,0.5,1,2.2,3.6,6,10,14,24,40,65,100,140,171],"range":["#1c0000","#3c0000","#520000","#7d0500","#a01c00","#c42e00","#e04000","#e65a14","#eb7a30","#ef9a48","#f4b360","#f3d09a","#f3e8da","#f5f5f0"]}}}},
{"data":{"name":"levels"},"mark":{"type":"rect","opacity":0},
 "encoding":{"x":{"datum":182.1,"type":"quantitative","scale":{"domain":[-180,180],"nice":false,"zero":false},"axis":null},"x2":{"datum":202.3},
  "y":{"field":"a","type":"quantitative","scale":{"type":"log","domain":[0.17,171.8],"nice":false},
   "axis":{"values":[0.2,0.3,0.4,0.5,0.6,0.7,0.8,0.9,2,3,4,5,6,7,8,9,20,30,40,50,60,70,80,90],"labels":false,"orient":"right","offset":89.5,"grid":false,"domain":false,"tickSize":-22,"tickColor":"#222","tickWidth":1.7,"zindex":1,"title":null}},
  "y2":{"field":"c"}}},
{"data":{"name":"spots"},"transform":[{"filter":"datum.v>=100"}],"mark":{"type":"circle","size":30,"color":"#fffaf0","opacity":1},
 "encoding":{"x":{"field":"l","type":"quantitative","scale":{"domain":[-180,180],"nice":false,"zero":false},"axis":null},"y":{"field":"b","type":"quantitative","scale":{"domain":[-90,90],"nice":false,"zero":false},"axis":null}}}
]
}
